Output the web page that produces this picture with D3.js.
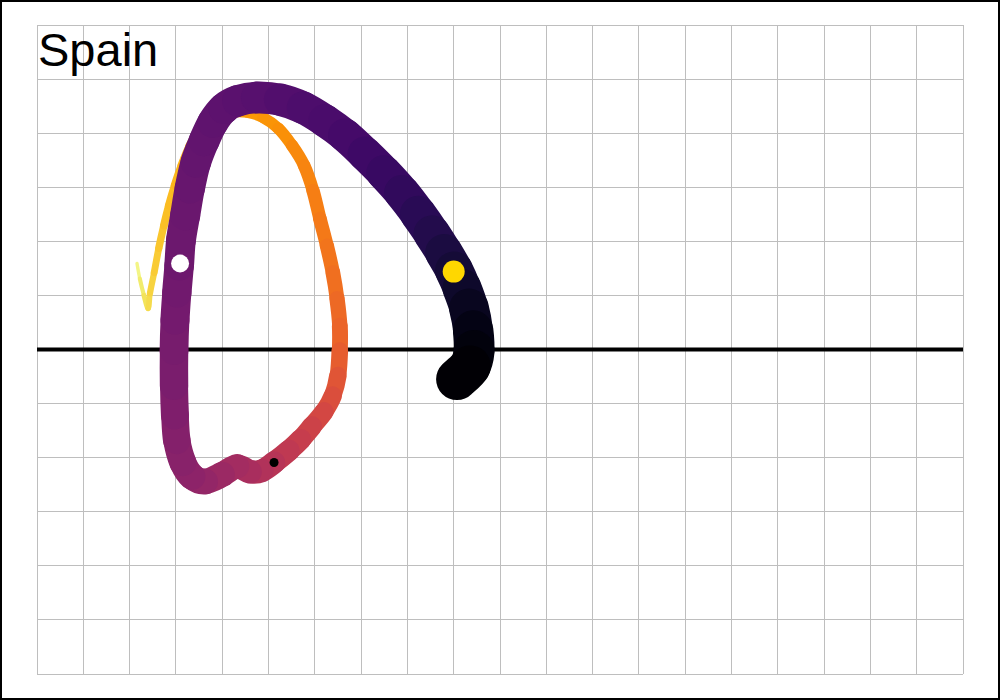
<!DOCTYPE html>
<html>
<head>
<meta charset="utf-8">
<script src="https://cdn.jsdelivr.net/npm/d3@7"></script>
<style>
  html, body { margin: 0; padding: 0; background: #fff; }
  svg { display: block; }
</style>
</head>
<body>
<svg id="chart" width="1000" height="700"></svg>
<script>
// ---- data (grid units) ----
const title = "Spain";
const pathX = [9.07,9.35,9.44,9.42,9.33,9.18,9.01,8.79,8.53,8.23,7.88,7.49,7.08,6.65,6.22,5.75,5.25,4.75,4.34,4.04,3.80,3.61,3.43,3.30,3.20,3.11,3.07,3.02,2.98,2.96,2.96,2.98,3.02,3.15,3.35,3.63,4.00,4.32,4.60,4.86,5.12,5.44,5.70,5.94,6.20,6.39,6.50,6.54,6.54,6.48,6.39,6.26,6.11,5.96,5.77,5.51,5.21,4.88,4.56,4.17,3.80,3.52,3.30,3.13,2.98,2.85,2.74,2.63,2.53,2.44,2.40,2.31,2.22,2.16];
const pathY = [-0.55,-0.31,-0.02,0.35,0.76,1.13,1.46,1.79,2.14,2.51,2.90,3.27,3.62,3.96,4.23,4.47,4.62,4.66,4.60,4.46,4.20,3.86,3.46,2.98,2.48,2.02,1.55,1.05,0.54,-0.02,-0.67,-1.22,-1.68,-2.09,-2.35,-2.44,-2.31,-2.16,-2.26,-2.24,-2.09,-1.87,-1.66,-1.42,-1.15,-0.85,-0.48,-0.02,0.44,0.94,1.42,1.92,2.42,2.94,3.40,3.77,4.09,4.29,4.38,4.38,4.27,4.07,3.75,3.40,3.03,2.66,2.29,1.87,1.42,1.04,0.76,1.00,1.31,1.59];
const pathT = [0.00,0.015,0.03,0.045,0.065,0.085,0.105,0.12,0.14,0.155,0.17,0.185,0.20,0.215,0.225,0.235,0.245,0.255,0.263,0.27,0.276,0.282,0.288,0.294,0.30,0.305,0.31,0.318,0.326,0.334,0.344,0.355,0.366,0.378,0.392,0.408,0.428,0.448,0.465,0.482,0.50,0.52,0.54,0.56,0.58,0.60,0.625,0.645,0.66,0.675,0.687,0.70,0.712,0.724,0.736,0.748,0.76,0.77,0.78,0.79,0.80,0.81,0.82,0.83,0.84,0.85,0.86,0.87,0.885,0.90,0.915,0.935,0.955,0.975];

const markerNames = ["gold", "white", "black"];
const markerX = [9.00, 3.09, 5.12];
const markerY = [1.44, 1.59, -2.09];

const xTicks = d3.range(0, 21, 1);
const yTicks = d3.range(-6, 7, 1);

// ---- styles ----
const markerStyle = {
  gold:  { fill: "#FFD700", r: 11 },
  white: { fill: "#FFFFFF", r: 9 },
  black: { fill: "#000000", r: 4.5 }
};

// ---- layout ----
const svg = d3.select("#chart");
const margin = { left: 37, right: 37, top: 25, bottom: 26 };
const W = 1000, H = 700;

const x = d3.scaleLinear().domain([0, 20]).range([margin.left, W - margin.right]);
const y = d3.scaleLinear().domain([-6, 6]).range([H - margin.bottom, margin.top]);
const widthScale = d3.scaleLinear().domain([0, 1]).range([42, 2]);
const color = d3.interpolateInferno;

// outer frame
svg.append("rect")
  .attr("x", 1).attr("y", 1).attr("width", W - 2).attr("height", H - 2)
  .attr("fill", "#fff").attr("stroke", "#000").attr("stroke-width", 2);

// grid
const grid = svg.append("g").attr("stroke", "#bebebe").attr("stroke-width", 1).attr("shape-rendering", "crispEdges");
grid.selectAll("line.v").data(xTicks).join("line")
  .attr("class", "v")
  .attr("x1", d => x(d)).attr("x2", d => x(d))
  .attr("y1", y(6)).attr("y2", y(-6));
grid.selectAll("line.h").data(yTicks).join("line")
  .attr("class", "h")
  .attr("y1", d => y(d)).attr("y2", d => y(d))
  .attr("x1", x(0)).attr("x2", x(20));

// zero line
svg.append("line")
  .attr("x1", x(0)).attr("x2", x(20))
  .attr("y1", y(0)).attr("y2", y(0))
  .attr("stroke", "#000").attr("stroke-width", 4);

// title
svg.append("text")
  .attr("x", x(0) + 1).attr("y", 66)
  .attr("font-family", "Liberation Sans, Arial, sans-serif")
  .attr("font-size", 47)
  .attr("fill", "#000")
  .text(title);

// path segments (smooth Catmull-Rom pieces), drawn latest first so earlier ones sit on top
const pts = pathX.map((d, i) => [x(d), y(pathY[i])]);
const n = pts.length;
const segs = [];
for (let i = 0; i < n - 1; i++) {
  const p0 = pts[Math.max(i - 1, 0)], p1 = pts[i], p2 = pts[i + 1], p3 = pts[Math.min(i + 2, n - 1)];
  const c1 = [p1[0] + (p2[0] - p0[0]) / 6, p1[1] + (p2[1] - p0[1]) / 6];
  const c2 = [p2[0] - (p3[0] - p1[0]) / 6, p2[1] - (p3[1] - p1[1]) / 6];
  const tm = (pathT[i] + pathT[i + 1]) / 2;
  segs.push({ d: `M${p1[0]},${p1[1]}C${c1[0]},${c1[1]} ${c2[0]},${c2[1]} ${p2[0]},${p2[1]}`, t: tm });
}
svg.append("g").selectAll("path").data(segs.slice().reverse()).join("path")
  .attr("d", d => d.d)
  .attr("fill", "none")
  .attr("stroke", d => color(d.t))
  .attr("stroke-width", d => widthScale(d.t))
  .attr("stroke-linecap", "round")
  .attr("stroke-linejoin", "round");

// markers
svg.append("g").selectAll("circle").data(markerNames).join("circle")
  .attr("cx", (d, i) => x(markerX[i]))
  .attr("cy", (d, i) => y(markerY[i]))
  .attr("r", d => markerStyle[d].r)
  .attr("fill", d => markerStyle[d].fill);
</script>
</body>
</html>
